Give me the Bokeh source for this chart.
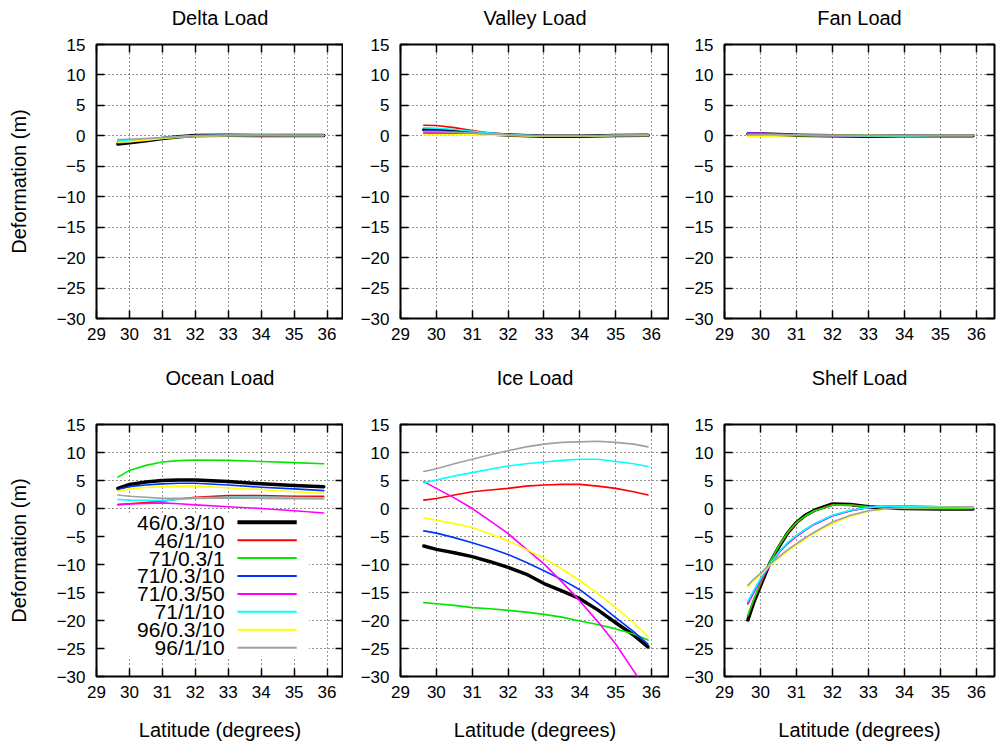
from bokeh.plotting import figure
from bokeh.layouts import column, row
from bokeh.models import LinearAxis, FixedTicker, BoxAnnotation, Label, Range1d, ColumnDataSource
from bokeh.embed import file_html
from bokeh.resources import INLINE

FONT = "Liberation Sans"

# ---- model runs ----
run_labels = ["46/0.3/10", "46/1/10", "71/0.3/1", "71/0.3/10",
              "71/0.3/50", "71/1/10", "96/0.3/10", "96/1/10"]
run_colors = ["#000000", "#ff0000", "#00e600", "#0033ff",
              "#ff00ff", "#00ffff", "#ffff00", "#a0a0a0"]
run_widths = [3.5, 1.6, 1.6, 1.6, 1.6, 1.6, 1.6, 1.6]

x_ticks = [29, 30, 31, 32, 33, 34, 35, 36]
y_ticks = [-30, -25, -20, -15, -10, -5, 0, 5, 10, 15]

# ---- latitude samples (degrees) ----
lat_coarse = [29.65, 30.0, 30.5, 31.0, 31.5, 32.0, 33.0, 34.0, 35.0, 35.9]
lat_ice = [29.65, 30.0, 30.5, 31.0, 31.5, 32.0, 32.5, 33.0, 33.5, 34.0, 34.5, 35.0, 35.5, 35.9]
lat_shelf = [29.65, 29.8, 30.0, 30.25, 30.5, 30.75, 31.0, 31.25, 31.5, 32.0, 32.5, 33.0, 33.5, 34.0, 35.0, 35.9]

# ---- deformation (m), one list per run, in run_labels order ----
delta_load = [
    [-1.35, -1.15, -0.8, -0.45, -0.15, 0.05, 0.1, 0.05, 0.05, 0.05],
    [-1.2, -1.0, -0.7, -0.35, -0.1, 0.05, 0.1, 0.05, 0.05, 0.05],
    [-0.75, -0.7, -0.55, -0.4, -0.25, -0.1, 0.0, 0.05, 0.05, 0.05],
    [-1.1, -0.95, -0.7, -0.4, -0.15, 0.0, 0.1, 0.05, 0.05, 0.05],
    [-0.95, -0.85, -0.65, -0.4, -0.2, -0.05, 0.05, 0.05, 0.05, 0.05],
    [-0.8, -0.7, -0.5, -0.3, -0.1, 0.05, 0.1, 0.1, 0.05, 0.05],
    [-1.05, -0.95, -0.7, -0.45, -0.2, -0.05, 0.05, 0.05, 0.05, 0.05],
    [-0.6, -0.55, -0.45, -0.3, -0.15, 0.0, 0.1, 0.1, 0.1, 0.1],
]
valley_load = [
    [1.0, 0.95, 0.75, 0.5, 0.3, 0.15, -0.05, -0.05, 0.05, 0.1],
    [1.75, 1.7, 1.35, 0.85, 0.45, 0.2, -0.1, -0.1, 0.05, 0.1],
    [0.4, 0.4, 0.35, 0.3, 0.2, 0.1, -0.05, -0.05, 0.05, 0.05],
    [0.8, 0.8, 0.65, 0.45, 0.3, 0.15, -0.05, -0.05, 0.05, 0.1],
    [0.5, 0.5, 0.45, 0.35, 0.25, 0.1, -0.05, -0.05, 0.05, 0.05],
    [1.3, 1.25, 1.05, 0.75, 0.45, 0.2, -0.05, -0.05, 0.05, 0.1],
    [0.15, 0.15, 0.15, 0.15, 0.1, 0.05, -0.05, -0.05, 0.05, 0.05],
    [0.7, 0.7, 0.6, 0.45, 0.3, 0.15, 0.0, 0.0, 0.1, 0.15],
]
fan_load = [
    [0.3, 0.3, 0.2, 0.1, 0.05, 0.0, -0.05, 0.0, 0.0, 0.0],
    [0.3, 0.3, 0.2, 0.1, 0.05, 0.0, -0.05, 0.0, 0.0, 0.0],
    [0.1, 0.1, 0.1, 0.05, 0.05, 0.05, 0.05, 0.05, 0.05, 0.05],
    [0.45, 0.4, 0.3, 0.15, 0.05, 0.0, 0.0, 0.0, 0.05, 0.05],
    [0.4, 0.4, 0.3, 0.15, 0.05, 0.0, 0.0, 0.05, 0.05, 0.05],
    [0.0, 0.05, 0.1, 0.1, 0.05, 0.05, 0.0, 0.0, 0.05, 0.05],
    [-0.15, -0.1, 0.0, 0.05, 0.05, 0.05, 0.05, 0.05, 0.05, 0.05],
    [0.2, 0.2, 0.15, 0.1, 0.1, 0.1, 0.1, 0.1, 0.1, 0.1],
]
ocean_load = [
    [3.6, 4.3, 4.75, 5.0, 5.1, 5.1, 4.8, 4.4, 4.1, 3.9],
    [0.7, 0.85, 1.05, 1.3, 1.7, 2.0, 2.3, 2.3, 2.2, 2.2],
    [5.6, 6.8, 7.7, 8.3, 8.55, 8.65, 8.6, 8.4, 8.2, 8.0],
    [3.4, 3.9, 4.2, 4.4, 4.5, 4.5, 4.2, 3.8, 3.5, 3.2],
    [0.7, 0.8, 0.9, 1.0, 0.85, 0.65, 0.3, 0.0, -0.4, -0.8],
    [1.6, 1.5, 1.45, 1.4, 1.6, 1.9, 2.0, 2.0, 1.95, 1.9],
    [3.1, 3.5, 3.75, 3.9, 4.0, 4.0, 3.7, 3.4, 3.0, 2.7],
    [2.4, 2.2, 2.0, 1.8, 1.8, 1.8, 1.9, 1.8, 1.75, 1.7],
]
ice_load = [
    [-6.7, -7.3, -7.9, -8.6, -9.5, -10.5, -11.7, -13.4, -14.7, -16.1, -18.1, -20.4, -22.6, -24.7],
    [1.5, 1.8, 2.4, 3.0, 3.3, 3.6, 4.0, 4.2, 4.3, 4.3, 4.0, 3.6, 3.0, 2.4],
    [-16.8, -17.0, -17.3, -17.7, -17.9, -18.2, -18.5, -18.9, -19.4, -20.1, -20.7, -21.5, -22.4, -23.5],
    [-4.0, -4.4, -5.2, -6.1, -7.1, -8.2, -9.6, -11.1, -12.7, -14.5, -16.9, -19.5, -22.0, -24.2],
    [4.8, 3.6, 1.9, 0.0, -2.2, -4.5, -7.2, -9.9, -13.1, -16.5, -20.2, -24.2, -29.0, -32.8],
    [4.6, 5.1, 5.8, 6.4, 7.0, 7.6, 8.0, 8.3, 8.6, 8.8, 8.8, 8.4, 8.0, 7.5],
    [-1.7, -2.1, -2.7, -3.4, -4.5, -5.8, -7.3, -8.9, -10.8, -12.9, -15.2, -17.7, -20.4, -22.9],
    [6.6, 7.1, 8.0, 8.8, 9.6, 10.3, 11.0, 11.5, 11.8, 11.9, 12.0, 11.8, 11.5, 11.0],
]
shelf_load = [
    [-19.9, -17.0, -13.8, -9.9, -7.0, -4.4, -2.5, -1.2, -0.3, 0.8, 0.7, 0.3, 0.1, 0.0, -0.1, -0.1],
    [-19.2, -16.6, -13.5, -9.8, -6.9, -4.4, -2.6, -1.3, -0.4, 0.7, 0.6, 0.3, 0.1, 0.0, -0.1, -0.1],
    [-19.0, -16.4, -13.3, -9.7, -6.8, -4.3, -2.5, -1.3, -0.4, 0.6, 0.6, 0.3, 0.1, 0.0, 0.0, 0.0],
    [-16.9, -15.0, -12.7, -10.2, -7.9, -6.2, -4.9, -3.8, -2.8, -1.3, -0.4, 0.2, 0.4, 0.4, 0.3, 0.2],
    [-17.1, -15.2, -12.9, -10.3, -8.0, -6.3, -5.0, -3.8, -2.8, -1.3, -0.4, 0.2, 0.4, 0.4, 0.3, 0.2],
    [-16.6, -14.8, -12.5, -10.1, -7.8, -6.1, -4.8, -3.7, -2.7, -1.2, -0.3, 0.2, 0.4, 0.4, 0.3, 0.2],
    [-13.9, -12.9, -11.8, -10.2, -8.9, -7.6, -6.5, -5.4, -4.4, -2.7, -1.4, -0.5, -0.1, 0.1, 0.2, 0.2],
    [-13.7, -12.7, -11.6, -10.0, -8.7, -7.4, -6.3, -5.2, -4.2, -2.4, -1.2, -0.4, 0.0, 0.1, 0.2, 0.3],
]

X_LO, X_HI = 29, 36.5
Y_LO, Y_HI = -30, 15


def make_panel(title, lat, runs, border_left, frame_w, border_right,
               border_top, frame_h, border_bottom, title_gap,
               ylabel=None, xlabel=None):
    p = figure(frame_width=frame_w, frame_height=frame_h,
               min_border_left=border_left, min_border_right=border_right,
               min_border_top=border_top, min_border_bottom=border_bottom,
               x_range=Range1d(X_LO, X_HI), y_range=Range1d(Y_LO, Y_HI),
               title=None, output_backend="svg", toolbar_location=None,
               background_fill_color="white", border_fill_color="white")

    p.outline_line_color = "black"
    p.outline_line_width = 2
    p.outline_line_alpha = 1

    for ax, ticks in ((p.xaxis, x_ticks), (p.yaxis, y_ticks)):
        ax.ticker = FixedTicker(ticks=ticks)
        ax.axis_line_color = None
        ax.major_tick_in = 8
        ax.major_tick_out = 0
        ax.major_tick_line_color = "black"
        ax.major_tick_line_width = 1.5
        ax.minor_tick_line_color = None
        ax.major_label_text_font = FONT
        ax.major_label_text_font_size = "17px"
        ax.major_label_text_color = "black"
        ax.axis_label_text_font = FONT
        ax.axis_label_text_font_size = "20px"
        ax.axis_label_text_font_style = "normal"
        ax.axis_label_text_color = "black"
    p.xaxis.major_label_standoff = 9
    p.yaxis.major_label_standoff = 11
    if ylabel:
        p.yaxis.axis_label = ylabel
        p.yaxis.axis_label_standoff = 24
    if xlabel:
        p.xaxis.axis_label = xlabel
        p.xaxis.axis_label_standoff = 18

    # mirrored tick marks on the top and right borders (no tick labels);
    # the top one also carries the panel heading as its axis label
    for loc, ticks in (("above", x_ticks), ("right", y_ticks)):
        mirror = LinearAxis(ticker=FixedTicker(ticks=ticks),
                            major_label_text_color=None,
                            major_label_text_font_size="0px",
                            major_label_standoff=0,
                            major_tick_in=8, major_tick_out=0,
                            major_tick_line_color="black",
                            major_tick_line_width=1.5,
                            minor_tick_line_color=None,
                            axis_line_color=None)
        if loc == "above":
            mirror.axis_label = title
            mirror.axis_label_standoff = title_gap
            mirror.axis_label_text_font = FONT
            mirror.axis_label_text_font_size = "20px"
            mirror.axis_label_text_font_style = "normal"
            mirror.axis_label_text_color = "black"
        p.add_layout(mirror, loc)

    for g in (p.xgrid, p.ygrid):
        g.grid_line_color = "black"
        g.grid_line_alpha = 0.85
        g.grid_line_width = 1
        g.grid_line_dash = "1 3"
    p.xgrid.ticker = FixedTicker(ticks=x_ticks)
    p.ygrid.ticker = FixedTicker(ticks=y_ticks)

    for vals, color, width in zip(runs, run_colors, run_widths):
        p.line(lat, vals, line_color=color, line_width=width,
               line_join="round", line_cap="round")
    return p


# column geometry (left border, frame width, right border)
COL = [(96, 247, 0), (57, 269, 0), (55, 270, 3)]

p1 = make_panel("Delta Load", lat_coarse, delta_load, *COL[0], 44, 274, 40, 16,
                ylabel="Deformation (m)")
p2 = make_panel("Valley Load", lat_coarse, valley_load, *COL[1], 44, 274, 40, 16)
p3 = make_panel("Fan Load", lat_coarse, fan_load, *COL[2], 44, 274, 40, 16)

p4 = make_panel("Ocean Load", lat_coarse, ocean_load, *COL[0], 66, 252, 66, 36,
                ylabel="Deformation (m)", xlabel="Latitude (degrees)")
p5 = make_panel("Ice Load", lat_ice, ice_load, *COL[1], 66, 252, 66, 36,
                xlabel="Latitude (degrees)")
p6 = make_panel("Shelf Load", lat_shelf, shelf_load, *COL[2], 66, 252, 66, 36,
                xlabel="Latitude (degrees)")

# key for the ocean panel: opaque background, right-aligned labels, samples on the right
key_box = BoxAnnotation(left=29.05, right=35.45, top=-0.75, bottom=-26.6,
                        fill_color="white", fill_alpha=1, line_color=None,
                        level="glyph")
p4.add_layout(key_box)

key_top = -2.45
key_step = 3.2
key_text_x = 32.89
key_line_x0 = 33.28
key_line_x1 = 35.08
key_y = [key_top - i * key_step for i in range(len(run_labels))]
for label, ky in zip(run_labels, key_y):
    p4.add_layout(Label(x=key_text_x, y=ky, text=label, text_align="right",
                        text_baseline="middle", text_font=FONT,
                        text_font_size="21px", text_color="black"))
key_src = ColumnDataSource(dict(x0=[key_line_x0] * len(key_y),
                                x1=[key_line_x1] * len(key_y),
                                y=key_y, color=run_colors,
                                width=[4 if w > 2 else 2 for w in run_widths]))
key_lines = p4.segment(x0="x0", x1="x1", y0="y", y1="y", line_color="color",
                       line_width="width", source=key_src)
key_lines.level = "overlay"

layout = column(row(p1, p2, p3, spacing=0), row(p4, p5, p6, spacing=0), spacing=0)

open("out.html", "w").write(file_html(layout, INLINE))
